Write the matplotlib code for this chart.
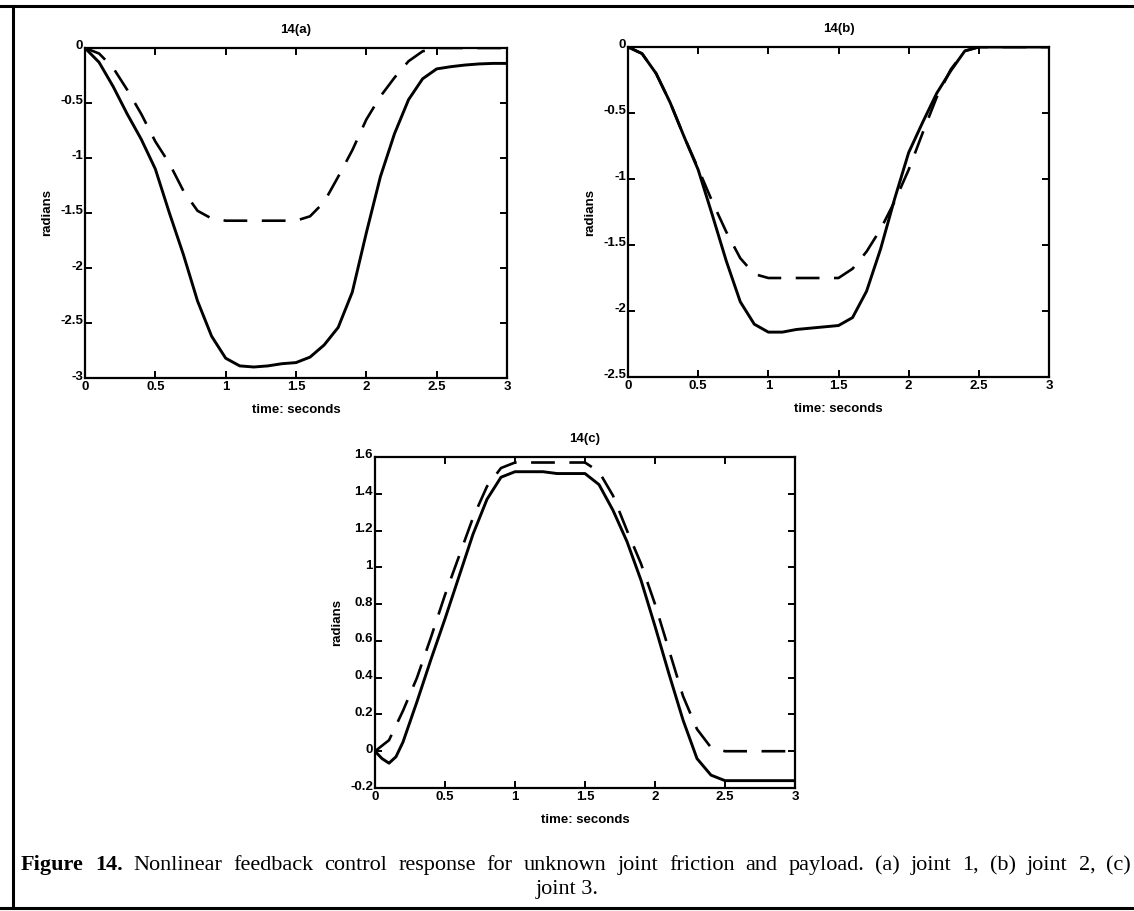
import matplotlib
matplotlib.use('Agg')
import matplotlib.pyplot as plt
from matplotlib.lines import Line2D
from matplotlib.transforms import offset_copy

plt.rcParams['font.family'] = 'Liberation Sans'
plt.rcParams['axes.unicode_minus'] = False

# time base (seconds)
t = [0.0, 0.1, 0.2, 0.3, 0.4, 0.5, 0.6, 0.7, 0.8, 0.9, 1.0,
     1.1, 1.2, 1.3, 1.4, 1.5, 1.6, 1.7, 1.8, 1.9, 2.0,
     2.1, 2.2, 2.3, 2.4, 2.5, 2.6, 2.7, 2.8, 2.9, 3.0]

# 14(a) joint 1
a_actual = [0.0, -0.13, -0.35, -0.6, -0.83, -1.1, -1.5, -1.88, -2.3, -2.62, -2.82,
            -2.89, -2.9, -2.89, -2.87, -2.86, -2.81, -2.7, -2.54, -2.22, -1.68,
            -1.17, -0.78, -0.47, -0.28, -0.19, -0.17, -0.155, -0.145, -0.14, -0.14]
a_desired = [0.0, -0.05, -0.18, -0.38, -0.6, -0.85, -1.05, -1.3, -1.48, -1.55, -1.57,
             -1.57, -1.57, -1.57, -1.57, -1.57, -1.53, -1.4, -1.17, -0.93, -0.65,
             -0.44, -0.27, -0.12, -0.03, 0.0, 0.0, 0.0, 0.0, 0.0, 0.0]

# 14(b) joint 2
b_actual = [0.0, -0.05, -0.2, -0.42, -0.68, -0.93, -1.27, -1.62, -1.93, -2.1, -2.16,
            -2.16, -2.14, -2.13, -2.12, -2.11, -2.05, -1.85, -1.53, -1.15, -0.8,
            -0.57, -0.35, -0.18, -0.03, 0.0, 0.0, 0.0, 0.0, 0.0, 0.0]
b_desired = [0.0, -0.05, -0.2, -0.42, -0.68, -0.92, -1.17, -1.4, -1.6, -1.72, -1.75,
             -1.75, -1.75, -1.75, -1.75, -1.75, -1.68, -1.55, -1.38, -1.17, -0.93,
             -0.65, -0.38, -0.17, -0.03, 0.0, 0.0, 0.0, 0.0, 0.0, 0.0]

# 14(c) joint 3
t_c = [0.0, 0.05, 0.1, 0.15, 0.2, 0.3, 0.4, 0.5, 0.6, 0.7, 0.8, 0.9, 1.0,
       1.1, 1.2, 1.3, 1.4, 1.5, 1.6, 1.7, 1.8, 1.9, 2.0,
       2.1, 2.2, 2.3, 2.4, 2.5, 2.6, 2.7, 2.8, 2.9, 3.0]
c_actual = [0.0, -0.04, -0.065, -0.03, 0.05, 0.27, 0.5, 0.72, 0.95, 1.18, 1.37, 1.49, 1.52,
            1.52, 1.52, 1.51, 1.51, 1.51, 1.45, 1.31, 1.14, 0.93, 0.68,
            0.42, 0.17, -0.04, -0.13, -0.16, -0.16, -0.16, -0.16, -0.16, -0.16]
c_desired = [0.0, 0.06, 0.22, 0.4, 0.62, 0.85, 1.06, 1.27, 1.44, 1.54, 1.57,
             1.57, 1.57, 1.57, 1.57, 1.57, 1.52, 1.39, 1.2, 1.02, 0.8,
             0.55, 0.3, 0.12, 0.02, 0.0, 0.0, 0.0, 0.0, 0.0, 0.0]

xticks = [0, 0.5, 1, 1.5, 2, 2.5, 3]
yticks_a = [-3, -2.5, -2, -1.5, -1, -0.5, 0]
yticks_b = [-2.5, -2, -1.5, -1, -0.5, 0]
yticks_c = [-0.2, 0, 0.2, 0.4, 0.6, 0.8, 1, 1.2, 1.4, 1.6]

caption_bold = 'Figure 14.'
caption_rest = ('Nonlinear feedback control response for unknown joint friction '
                'and payload. (a) joint 1, (b) joint 2, (c)')
caption_line2 = 'joint 3.'

W, H = 1134, 911
fig = plt.figure(figsize=(W / 100, H / 100), dpi=100)
FS = 9.5


def panel(rect, title, yticks, ylim, tx, y_act, y_des):
    ax = fig.add_axes(rect)
    ax.plot(tx[0], y_act, color='black', lw=2.1)
    ax.plot(tx[1], y_des, color='black', lw=1.9, dashes=(9, 5.5))
    ax.set_xlim(0, 3)
    ax.set_ylim(*ylim)
    ax.set_xticks(xticks)
    ax.set_xticklabels(['%g' % v for v in xticks])
    ax.set_yticks(yticks)
    ax.set_yticklabels(['%g' % v for v in yticks])
    ax.tick_params(direction='in', top=True, right=True, length=5, width=1.4,
                   labelsize=FS)
    ax.tick_params(axis='y', pad=1.5)
    ax.tick_params(axis='x', pad=2)
    for lab in ax.get_xticklabels():
        lab.set_fontweight('bold')
    # MATLAB prints put the y labels a little above their ticks
    for lab in ax.get_yticklabels():
        lab.set_fontweight('bold')
        lab.set_transform(offset_copy(lab.get_transform(), fig=fig, x=0, y=3, units='dots'))
    for s in ax.spines.values():
        s.set_linewidth(1.6)
    ax.set_title(title, fontsize=FS, fontweight='bold', pad=11)
    ax.set_xlabel('time: seconds', fontsize=FS, fontweight='bold', labelpad=8)
    ax.set_ylabel('radians', fontsize=FS, fontweight='bold', labelpad=5)
    return ax


def rect(x0, y0, x1, y1):
    return [x0 / W, 1 - y1 / H, (x1 - x0) / W, (y1 - y0) / H]


panel(rect(85, 48, 507, 378), '14(a)', yticks_a, (-3, 0), (t, t), a_actual, a_desired)
panel(rect(628, 47, 1049, 377), '14(b)', yticks_b, (-2.5, 0), (t, t), b_actual, b_desired)
panel(rect(375, 457, 795, 788), '14(c)', yticks_c, (-0.2, 1.6), (t_c, t), c_actual, c_desired)

# page frame of the scanned figure
fig.add_artist(Line2D([0, 1], [1 - 6 / H, 1 - 6 / H], transform=fig.transFigure,
                      color='black', lw=2.2))
fig.add_artist(Line2D([13 / W, 13 / W], [1 - 6 / H, 1 - 908 / H], transform=fig.transFigure,
                      color='black', lw=2.2))
fig.add_artist(Line2D([0, 1], [1 - 908 / H, 1 - 908 / H], transform=fig.transFigure,
                      color='black', lw=2.2))

# caption, first line justified across the frame like the printed page
CFS = 16
y1 = 1 - 870 / H
n_bold = len(caption_bold.split())
words = caption_bold.split() + caption_rest.split()
word_txt = [fig.text(0, y1, w, family='Liberation Serif', fontsize=CFS,
                     fontweight='bold' if i < n_bold else 'normal',
                     va='baseline', ha='left') for i, w in enumerate(words)]
fig.canvas.draw()
r = fig.canvas.get_renderer()
widths = [wt.get_window_extent(r).width for wt in word_txt]
x_left, x_right = 21, 1131
gap = (x_right - x_left - sum(widths)) / (len(words) - 1)
x = x_left
for wt, w in zip(word_txt, widths):
    wt.set_x(x / W)
    x += w + gap
fig.text(0.5, 1 - 894 / H, caption_line2, family='Liberation Serif',
         fontsize=CFS, va='baseline', ha='center')

fig.savefig('out.png', dpi=100)
